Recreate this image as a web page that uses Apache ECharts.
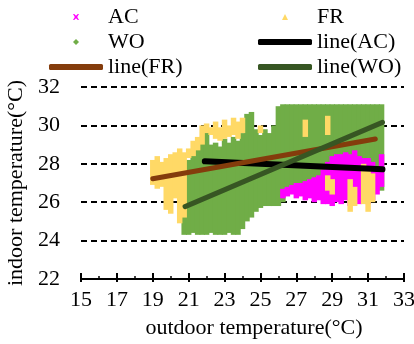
<!DOCTYPE html>
<html>
<head>
<meta charset="utf-8">
<script src="https://cdn.jsdelivr.net/npm/echarts@6/dist/echarts.min.js"></script>
<style>
  html, body { margin: 0; padding: 0; background: #fff; }
  #chart { width: 414px; height: 344px; }
</style>
</head>
<body>
<div id="chart"></div>
<script>
// outdoor temp (bin centre), indoor low, indoor high
const acRanges = [
  [26.25, 26.2, 26.7], [26.5, 26.3, 26.8], [26.75, 26.4, 26.9], [27.0, 26.2, 27.0],
  [27.25, 26.3, 27.0], [27.5, 26.1, 27.1], [27.75, 26.2, 27.2], [28.0, 26.0, 27.3],
  [28.25, 26.1, 27.4], [28.5, 25.9, 27.7], [28.75, 25.9, 28.1], [29.0, 25.8, 28.4],
  [29.25, 26.0, 28.5], [29.5, 25.9, 28.5], [29.75, 26.1, 28.6], [30.0, 25.8, 28.5],
  [30.25, 25.9, 28.7], [30.5, 25.9, 28.4], [30.75, 26.0, 28.3], [31.0, 25.9, 28.3],
  [31.25, 26.1, 28.1], [31.5, 26.4, 27.6], [31.75, 26.8, 28.5]
];
const frRanges = [
  [19.0, 26.9, 28.2], [19.25, 26.7, 28.4], [19.5, 26.8, 28.1], [19.75, 25.6, 28.3],
  [20.0, 25.4, 28.5], [20.25, 26.2, 28.6], [20.5, 24.9, 28.8], [20.75, 25.2, 28.6],
  [21.0, 28.3, 28.8], [21.25, 28.4, 29.2], [21.5, 28.7, 29.4], [21.75, 29.0, 30.0],
  [22.0, 29.6, 30.1], [22.25, 29.5, 29.9], [22.5, 29.3, 30.2], [22.75, 29.2, 29.9],
  [23.0, 29.3, 30.3], [23.25, 29.4, 30.0], [23.5, 29.5, 30.4], [23.75, 29.3, 30.2],
  [24.0, 29.6, 30.4], [25.0, 29.6, 30.0],
  [27.5, 29.4, 30.3], [28.75, 29.5, 30.5],
  [28.75, 26.6, 27.4], [29.0, 26.4, 27.2], [30.0, 25.5, 27.2], [30.25, 25.8, 26.8],
  [30.75, 25.9, 28.0], [31.0, 25.5, 27.8], [31.25, 26.0, 27.5]
];
const woRanges = [
  [20.75, 24.3, 27.9], [21.0, 24.3, 28.2], [21.25, 24.4, 28.5], [21.5, 24.3, 28.9],
  [21.75, 24.3, 29.4], [22.0, 24.3, 29.7], [22.25, 24.4, 29.0], [22.5, 24.3, 29.1],
  [22.75, 24.3, 28.9], [23.0, 24.3, 29.3], [23.25, 24.4, 29.1], [23.5, 24.3, 29.4],
  [23.75, 24.3, 29.2], [24.0, 24.6, 29.6], [24.25, 25.0, 30.6], [24.5, 25.2, 30.7],
  [24.75, 25.5, 29.8], [25.0, 25.7, 29.5], [25.25, 25.8, 29.8], [25.5, 25.8, 29.6],
  [25.75, 25.8, 30.0], [26.0, 25.8, 31.0], [26.25, 26.0, 31.1], [26.5, 26.7, 31.1],
  [26.75, 26.8, 31.1], [27.0, 26.9, 31.1], [27.25, 26.9, 31.1], [27.5, 27.0, 31.1],
  [27.75, 27.1, 31.1], [28.0, 27.2, 31.1], [28.25, 27.3, 31.1], [28.5, 27.6, 31.1],
  [28.75, 28.0, 31.1], [29.0, 28.3, 31.1], [29.25, 28.4, 31.1], [29.5, 28.4, 31.1],
  [29.75, 28.5, 31.1], [30.0, 28.4, 31.1], [30.25, 28.6, 31.1], [30.5, 28.3, 31.1],
  [30.75, 28.2, 31.1], [31.0, 28.2, 31.1], [31.25, 28.0, 31.1], [31.5, 27.5, 31.1],
  [31.75, 26.6, 31.1]
];
const lineAC = [[21.9, 28.13], [31.8, 27.71]];
const lineFR = [[19.0, 27.22], [31.4, 29.29]];
const lineWO = [[20.8, 25.77], [31.8, 30.16]];

const xTicks = { min: 15, max: 33, interval: 2 };
const yTicks = { min: 22, max: 32, interval: 2 };

const font = "Liberation Serif";
const colors = { AC: "#ff00ff", FR: "#ffd966", WO: "#70ad47", lAC: "#000000", lFR: "#843c0c", lWO: "#375623" };
const binHalf = 0.125;

function renderRange(params, api) {
  const x = api.value(0);
  const p1 = api.coord([x - binHalf, api.value(2)]);
  const p2 = api.coord([x + binHalf, api.value(1)]);
  // a little overlap so neighbouring columns don't leave hairline seams
  return {
    type: "rect",
    shape: { x: p1[0] - 0.5, y: p1[1], width: p2[0] - p1[0] + 1, height: p2[1] - p1[1] },
    style: { fill: api.visual("color"), stroke: null }
  };
}

function rangeSeries(name, data, color, z) {
  return {
    name: name, type: "custom", renderItem: renderRange, data: data,
    encode: { x: 0, y: [1, 2] }, itemStyle: { color: color }, z: z, silent: true
  };
}

function fitLine(name, data, color, width) {
  return {
    name: name, type: "line", data: data, showSymbol: false, symbol: "none",
    lineStyle: { color: color, width: width, cap: "round" }, itemStyle: { color: color }, z: 10
  };
}

const legendText = { fontFamily: font, fontSize: 22, color: "#000" };

const chart = echarts.init(document.getElementById("chart"));
chart.setOption({
  animation: false,
  textStyle: { fontFamily: font },
  grid: { left: 81, right: 10, top: 87, bottom: 65, containLabel: false, outerBoundsMode: "none" },
  legend: [
    {
      orient: "vertical", left: 49, top: 6, padding: 0, itemWidth: 54, itemHeight: 6, itemGap: 3,
      textStyle: legendText,
      data: [
        { name: "AC", icon: "path://M0,0L0.2,0L0.5,0.3L0.8,0L1,0L0.7,0.5L1,1L0.8,1L0.5,0.7L0.2,1L0,1L0.3,0.5Z" },
        { name: "WO", icon: "path://M0.5,0L1,0.5L0.5,1L0,0.5Z" },
        { name: "line(FR)", icon: "roundRect" }
      ]
    },
    {
      orient: "vertical", left: 258, top: 6, padding: 0, itemWidth: 54, itemHeight: 6, itemGap: 3,
      textStyle: legendText,
      data: [
        { name: "FR", icon: "path://M0.5,0L1,1L0,1Z" },
        { name: "line(AC)", icon: "roundRect" },
        { name: "line(WO)", icon: "roundRect" }
      ]
    }
  ],
  xAxis: [
    {
      type: "value", min: xTicks.min, max: xTicks.max, interval: xTicks.interval,
      name: "outdoor temperature(°C)", nameLocation: "middle", nameGap: 38,
      nameTextStyle: { fontFamily: font, fontSize: 22, color: "#000", padding: [0, 0, 0, 23] },
      axisLine: { lineStyle: { color: "#000", width: 2 } },
      axisTick: { inside: true, length: 6, lineStyle: { color: "#000", width: 2 } },
      minorTick: { show: true, splitNumber: 2, length: 3, lineStyle: { color: "#000", width: 1.5 } },
      axisLabel: { fontFamily: font, fontSize: 22, color: "#000", margin: 10 },
      splitLine: { show: false }
    },
    {
      type: "value", min: xTicks.min, max: xTicks.max, interval: xTicks.interval,
      position: "bottom",
      axisLine: { show: false },
      axisTick: { inside: false, length: 3, lineStyle: { color: "#000", width: 2 } },
      axisLabel: { show: false },
      splitLine: { show: false }
    }
  ],
  yAxis: {
    type: "value", min: yTicks.min, max: yTicks.max, interval: yTicks.interval,
    name: "indoor temperature(°C)", nameLocation: "middle", nameGap: 52,
    nameTextStyle: { fontFamily: font, fontSize: 22, color: "#000" },
    axisLine: { show: false },
    axisTick: { show: false },
    axisLabel: { fontFamily: font, fontSize: 22, color: "#000", margin: 21 },
    splitLine: { lineStyle: { color: "#000", width: 2, type: [6, 4] } }
  },
  series: [
    rangeSeries("WO", woRanges, colors.WO, 2),
    rangeSeries("AC", acRanges, colors.AC, 3),
    rangeSeries("FR", frRanges, colors.FR, 4),
    fitLine("line(AC)", lineAC, colors.lAC, 6),
    fitLine("line(FR)", lineFR, colors.lFR, 5),
    fitLine("line(WO)", lineWO, colors.lWO, 5)
  ]
});
</script>
</body>
</html>
